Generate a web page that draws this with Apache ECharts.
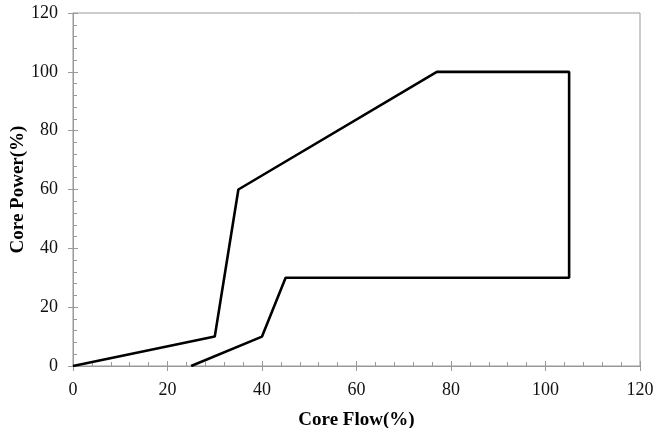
<!DOCTYPE html>
<html>
<head>
<meta charset="utf-8">
<script src="https://cdn.jsdelivr.net/npm/echarts@6/dist/echarts.min.js"></script>
<style>
html, body { margin: 0; padding: 0; background: #fff; }
#chart { width: 656px; height: 428px; }
</style>
</head>
<body>
<div id="chart"></div>
<script>
// operating map boundary
var coreFlow = [0, 30, 35, 77, 105, 105, 45, 40, 25];
var corePower = [0, 10, 60, 100, 100, 30, 30, 10, 0];

var axisMin = 0;
var axisMax = 120;
var axisStep = 20;

var myChart = echarts.init(document.getElementById('chart'));

var points = [];
for (var i = 0; i < coreFlow.length; i++) {
	points.push([coreFlow[i], corePower[i]]);
}

var font = 'Liberation Serif';
var gray = '#999';

function mainAxis(name, gap, labelMargin) {
	return {
		type : 'value',
		min : axisMin,
		max : axisMax,
		interval : axisStep,
		name : name,
		nameLocation : 'middle',
		nameGap : gap,
		nameMoveOverlap : false,
		nameTextStyle : {
			fontFamily : font,
			fontSize : 19,
			fontWeight : 'bold',
			color : '#000'
		},
		axisLine : { lineStyle : { color : gray, width : 1 } },
		axisTick : { inside : true, length : 5, lineStyle : { color : gray } },
		minorTick : { show : true, splitNumber : 5, length : 4, lineStyle : { color : gray } },
		axisLabel : {
			fontFamily : font,
			fontSize : 18,
			color : '#111',
			margin : labelMargin
		},
		splitLine : { show : false }
	};
}

// second copy only for the outward half of the major ticks
function tickAxis(pos) {
	return {
		type : 'value',
		position : pos,
		min : axisMin,
		max : axisMax,
		interval : axisStep,
		axisLine : { show : false },
		axisTick : { inside : false, length : 5, lineStyle : { color : gray } },
		axisLabel : { show : false },
		splitLine : { show : false }
	};
}

var xMain = mainAxis('Core Flow(%)', 45, 15);
xMain.position = 'bottom';
var yMain = mainAxis('Core Power(%)', 45, 15);
yMain.position = 'left';

myChart.setOption({
	animation : false,
	grid : {
		left : 73,
		right : 16,
		top : 13,
		bottom : 62,
		outerBoundsMode : 'none',
		containLabel : false,
		show : true,
		borderColor : gray,
		borderWidth : 1
	},
	xAxis : [ xMain, tickAxis('bottom') ],
	yAxis : [ yMain, tickAxis('left') ],
	series : [ {
		type : 'line',
		data : points,
		showSymbol : false,
		lineStyle : { color : '#000', width : 2.6 }
	} ]
});
</script>
</body>
</html>
